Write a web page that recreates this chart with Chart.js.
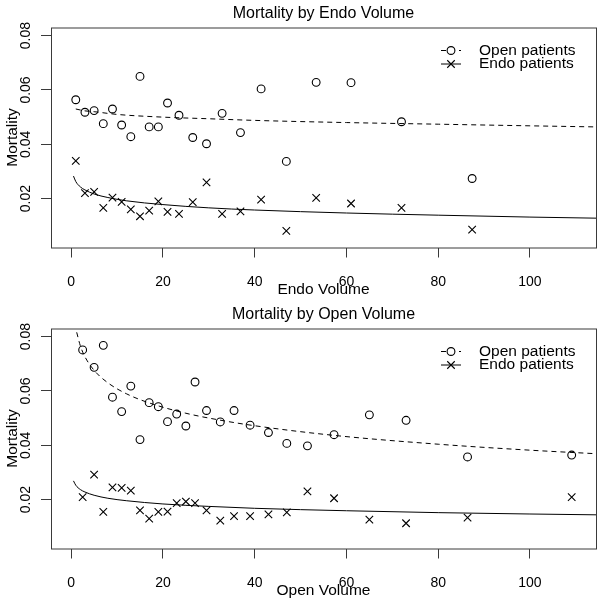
<!DOCTYPE html>
<html>
<head>
<meta charset="utf-8">
<script src="https://cdn.jsdelivr.net/npm/chart.js@4.4.1/dist/chart.umd.min.js"></script>
<style>
  html, body { margin: 0; padding: 0; background: #fff; }
  #wrap { position: relative; width: 603px; height: 604px; }
  canvas { position: absolute; left: 0; }
  #endoChart { top: 0; }
  #openChart { top: 301px; }
</style>
</head>
<body>
<div id="wrap">
  <canvas id="endoChart" width="603" height="302"></canvas>
  <canvas id="openChart" width="603" height="302"></canvas>
</div>
<script>
// Axis ticks (shared by both panels)
const xTicks = [0, 20, 40, 60, 80, 100];
const yTicks = [0.02, 0.04, 0.06, 0.08];

// Panel 1: mortality by endo volume
const endoVol = [1, 3, 5, 7, 9, 11, 13, 15, 17, 19, 21, 23.5, 26.5, 29.5, 32.9, 36.9, 41.4, 46.9, 53.4, 61, 72, 87.4];
const openMortByEndo = [0.0564, 0.0518, 0.0524, 0.0476, 0.0530, 0.0471, 0.0428, 0.0650, 0.0464, 0.0464, 0.0552,
  0.0507, 0.0425, 0.0402, 0.0514, 0.0443, 0.0604, 0.0337, 0.0628, 0.0627, 0.0483, 0.0274];
const endoMortByEndo = [0.0339, 0.0220, 0.0225, 0.0166, 0.0204, 0.0188, 0.0160, 0.0135, 0.0156, 0.0190, 0.0151,
  0.0144, 0.0187, 0.0260, 0.0144, 0.0153, 0.0196, 0.0081, 0.0203, 0.0182, 0.0166, 0.0086];

const openFitEndoX = [1, 3, 5, 10, 20, 30, 40, 60, 80, 100, 114.4];
const openFitEndoY = [0.0530, 0.0523, 0.0520, 0.0510, 0.0500, 0.0494, 0.0488, 0.0480, 0.0474, 0.0468, 0.0464];
const endoFitEndoX = [0.5, 1, 2, 3, 5, 8, 12, 20, 30, 40, 60, 80, 100, 114.4];
const endoFitEndoY = [0.0283, 0.0263, 0.0243, 0.0232, 0.0217, 0.0204, 0.0192, 0.0178, 0.0166, 0.0158, 0.0147, 0.0139, 0.0132, 0.0128];

// Panel 2: mortality by open volume
const openVol = [2.5, 5, 7, 9, 11, 13, 15, 17, 19, 21, 23, 25, 27, 29.5, 32.5, 35.5, 39, 43, 47, 51.5, 57.3, 65, 73, 86.4, 109.1];
const openMortByOpen = [0.0751, 0.0687, 0.0768, 0.0577, 0.0524, 0.0618, 0.0421, 0.0557, 0.0542, 0.0487, 0.0515, 0.0471,
  0.0633, 0.0528, 0.0486, 0.0528, 0.0474, 0.0447, 0.0407, 0.0398, 0.0439, 0.0512, 0.0492, 0.0357, 0.0364];
const endoMortByOpen = [0.0209, 0.0292, 0.0155, 0.0245, 0.0243, 0.0233, 0.0160, 0.0130, 0.0155, 0.0156, 0.0187, 0.0193,
  0.0187, 0.0160, 0.0123, 0.0139, 0.0139, 0.0146, 0.0153, 0.0230, 0.0205, 0.0126, 0.0113, 0.0134, 0.0209];

const openFitOpenX = [1.2, 2, 3, 5, 8, 12, 17, 25, 32, 40, 57, 80, 100, 114.4];
const openFitOpenY = [0.0816, 0.0766, 0.0726, 0.0676, 0.0630, 0.0590, 0.0556, 0.0518, 0.0494, 0.0472, 0.0437, 0.0404, 0.0382, 0.0369];
const endoFitOpenX = [0.5, 1, 2, 3, 5, 8, 12, 20, 30, 40, 60, 80, 100, 114.4];
const endoFitOpenY = [0.0269, 0.0253, 0.0237, 0.0228, 0.0216, 0.0205, 0.0196, 0.0184, 0.0175, 0.0168, 0.0159, 0.0152, 0.0147, 0.0144];

const FONT = '"Liberation Sans", Arial, sans-serif';
const INK = '#000';
const FRAME = '#3a3a3a';

function toPoints(xs, ys) {
  return xs.map((x, i) => ({ x: x, y: ys[i] }));
}

// box, titles and legend drawn the way R places them
const framePlugin = {
  id: 'frame',
  afterDraw(chart, args, opts) {
    const ctx = chart.ctx;
    const a = chart.chartArea;
    const cx = (a.left + a.right) / 2;

    ctx.save();
    ctx.strokeStyle = FRAME;
    ctx.lineWidth = 1;
    ctx.strokeRect(a.left + 0.5, a.top + 0.5, a.right - a.left, a.bottom - a.top);

    ctx.fillStyle = INK;
    ctx.textAlign = 'center';
    ctx.textBaseline = 'middle';
    ctx.font = '16px ' + FONT;
    ctx.fillText(opts.title, cx, 14);

    ctx.font = '15.5px ' + FONT;
    ctx.fillText(opts.xTitle, cx, 290);

    ctx.save();
    ctx.translate(13, (a.top + a.bottom) / 2);
    ctx.rotate(-Math.PI / 2);
    ctx.fillText('Mortality', 0, 0);
    ctx.restore();

    // legend (top right, no box)
    const rows = [
      { label: 'Open patients', ds: chart.data.datasets[0], line: chart.data.datasets[2], y: 50.5 },
      { label: 'Endo patients', ds: chart.data.datasets[1], line: chart.data.datasets[3], y: 64 }
    ];
    const x0 = a.right - 155;
    rows.forEach(r => {
      ctx.strokeStyle = INK;
      ctx.lineWidth = 1;
      ctx.setLineDash(r.line.borderDash || []);
      ctx.beginPath();
      ctx.moveTo(x0, r.y);
      ctx.lineTo(x0 + 20, r.y);
      ctx.stroke();
      ctx.setLineDash([]);
      ctx.fillStyle = '#fff';
      ctx.lineWidth = r.ds.borderWidth;
      Chart.helpers.drawPoint(ctx, {
        pointStyle: r.ds.pointStyle,
        radius: r.ds.pointRadius,
        borderWidth: r.ds.borderWidth,
        rotation: 0
      }, x0 + 10, r.y);
      ctx.fillStyle = INK;
      ctx.textAlign = 'left';
      ctx.font = '15.5px ' + FONT;
      ctx.fillText(r.label, x0 + 38, r.y);
    });
    ctx.restore();
  }
};

function buildChart(canvasId, title, xTitle, xs, openY, endoY, oFitX, oFitY, eFitX, eFitY) {
  const ctx = document.getElementById(canvasId).getContext('2d');

  return new Chart(ctx, {
    type: 'scatter',
    data: {
      datasets: [
        {
          label: 'Open patients',
          data: toPoints(xs, openY),
          pointStyle: 'circle',
          pointRadius: 3.9,
          borderWidth: 1.1,
          borderColor: INK,
          backgroundColor: 'rgba(0,0,0,0)'
        },
        {
          label: 'Endo patients',
          data: toPoints(xs, endoY),
          pointStyle: 'crossRot',
          pointRadius: 5.3,
          borderWidth: 1.1,
          borderColor: INK,
          backgroundColor: INK
        },
        {
          label: 'Open fit',
          type: 'line',
          data: toPoints(oFitX, oFitY),
          showLine: true,
          borderColor: INK,
          borderWidth: 1,
          borderDash: [5, 4],
          pointRadius: 0,
          cubicInterpolationMode: 'monotone'
        },
        {
          label: 'Endo fit',
          type: 'line',
          data: toPoints(eFitX, eFitY),
          showLine: true,
          borderColor: INK,
          borderWidth: 1,
          pointRadius: 0,
          cubicInterpolationMode: 'monotone'
        }
      ]
    },
    options: {
      responsive: false,
      animation: false,
      devicePixelRatio: 1,
      layout: { padding: { top: 27.5, right: 7, left: 0, bottom: 0 } },
      plugins: {
        legend: { display: false },
        tooltip: { enabled: false },
        frame: { title: title, xTitle: xTitle }
      },
      scales: {
        x: {
          type: 'linear',
          min: -4.4,
          max: 114.4,
          afterBuildTicks: s => { s.ticks = xTicks.map(v => ({ value: v })); },
          afterFit: s => { s.height = 54.5; },
          border: { display: false },
          grid: { drawOnChartArea: false, drawTicks: true, tickLength: 10, color: FRAME },
          ticks: {
            autoSkip: false,
            maxRotation: 0,
            padding: 16,
            color: INK,
            font: { family: FONT, size: 14 }
          }
        },
        y: {
          type: 'linear',
          min: 0.002,
          max: 0.083,
          afterBuildTicks: s => { s.ticks = yTicks.map(v => ({ value: v })); },
          afterFit: s => { s.width = 51; },
          border: { display: false },
          grid: { drawOnChartArea: false, drawTicks: true, tickLength: 10, color: FRAME },
          ticks: {
            minRotation: 90,
            maxRotation: 90,
            crossAlign: 'center',
            padding: 1,
            color: INK,
            font: { family: FONT, size: 14 },
            callback: v => v.toFixed(2)
          }
        }
      }
    },
    plugins: [framePlugin]
  });
}

document.addEventListener('DOMContentLoaded', () => {
  buildChart('endoChart', 'Mortality by Endo Volume', 'Endo Volume', endoVol,
    openMortByEndo, endoMortByEndo, openFitEndoX, openFitEndoY, endoFitEndoX, endoFitEndoY);
  buildChart('openChart', 'Mortality by Open Volume', 'Open Volume', openVol,
    openMortByOpen, endoMortByOpen, openFitOpenX, openFitOpenY, endoFitOpenX, endoFitOpenY);
});
</script>
</body>
</html>
